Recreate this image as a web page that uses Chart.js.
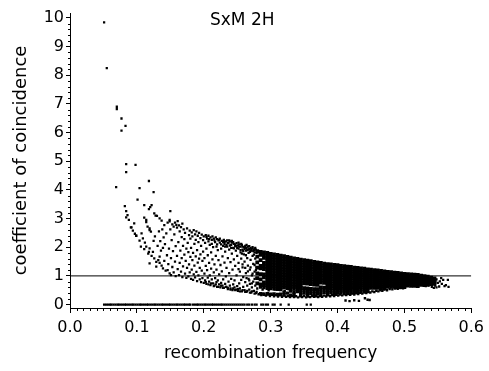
<!DOCTYPE html>
<html><head><meta charset="utf-8">
<script src="https://cdn.jsdelivr.net/npm/chart.js@4.4.1/dist/chart.umd.min.js"></script>
<style>html,body{margin:0;padding:0;background:#fff;}canvas{display:block;}</style>
</head><body>
<canvas id="c" width="489" height="371"></canvas>
<script>
const chartTitle = 'SxM 2H';
const xAxisTitle = 'recombination frequency';
const yAxisTitle = 'coefficient of coincidence';
const xTickLabels = ['0.0','0.1','0.2','0.3','0.4','0.5','0.6'];
const yTickLabels = ['0','1','2','3','4','5','6','7','8','9','10'];
const referenceLine = [[0,1],[0.6,1]];

const outliers = [[0.051,9.84],[0.055,8.25],[0.070,6.90],[0.070,6.82],[0.077,6.49],[0.083,6.23],[0.077,6.07],[0.084,4.90],[0.098,4.87],[0.084,4.62],[0.118,4.31],[0.069,4.10],[0.104,4.06],[0.125,3.92],[0.101,3.66],[0.122,3.47],[0.120,3.40],[0.082,3.43],[0.084,3.26],[0.084,3.04],[0.118,3.33],[0.150,3.26],[0.126,3.18],[0.130,3.09],[0.134,3.01],[0.137,2.93],[0.111,3.03],[0.114,2.88],[0.092,2.69],[0.099,2.40],[0.107,2.48],[0.119,2.66],[0.121,2.54],[0.141,2.77],[0.149,2.95]];

const zeroRowX = [0.051,0.054,0.057,0.060,0.062,0.065,0.068,0.071,0.073,0.076,0.079,0.082,0.084,0.087,0.090,0.093,0.095,0.098,0.101,0.104,0.106,0.109,0.112,0.115,0.117,0.120,0.123,0.126,0.128,0.131,0.134,0.137,0.139,0.142,0.145,0.148,0.150,0.153,0.156,0.159,0.161,0.164,0.167,0.170,0.172,0.175,0.178,0.180,0.184,0.187,0.190,0.192,0.195,0.198,0.201,0.203,0.206,0.209,0.212,0.214,0.217,0.220,0.223,0.226,0.228,0.231,0.234,0.237,0.240,0.243,0.246,0.249,0.252,0.255,0.258,0.261,0.265,0.268,0.272,0.276,0.279,0.286,0.289,0.293,0.296,0.303,0.306,0.315,0.327,0.354,0.360];

const sparseCloud = [
[0.086,3.12],[0.088,2.95],[0.091,2.69],[0.094,2.58],[0.097,2.47],[0.099,2.40],[0.096,2.83],
[0.104,2.23],[0.106,2.02],[0.109,2.31],[0.111,1.93],[0.111,3.47],[0.112,2.16],[0.114,2.95],[0.114,2.02],[0.116,2.72],[0.117,1.78],[0.118,1.84],[0.119,1.96],[0.119,2.60],[0.119,1.44],
[0.122,1.70],[0.124,1.84],[0.125,2.22],[0.126,1.61],[0.127,2.38],[0.128,3.10],[0.129,1.49],[0.129,1.32],[0.131,2.05],[0.132,1.55],[0.133,2.55],[0.134,1.45],[0.134,1.67],[0.135,2.21],[0.136,1.88],[0.137,1.36],[0.138,2.62],[0.139,1.26],[0.139,1.98],[0.140,2.34],
[0.141,1.52],[0.142,2.11],[0.143,1.18],[0.144,2.48],[0.145,1.72],[0.146,1.20],[0.146,2.86],[0.147,1.41],[0.148,1.95],[0.149,1.09],[0.149,2.90],[0.150,2.62],[0.151,1.03],[0.151,1.62],[0.152,2.25],[0.153,2.80],[0.153,1.31],[0.154,1.86],[0.155,2.72],[0.155,1.12],[0.156,2.45],[0.157,2.86],[0.157,1.50],[0.158,2.04],[0.158,0.99],[0.159,2.78],[0.160,1.70],[0.160,2.68],
[0.161,1.24],[0.161,2.91],[0.162,2.18],[0.163,1.03],[0.163,2.76],[0.164,1.45],[0.164,2.55],[0.165,1.88],[0.166,2.70],[0.166,1.15],[0.167,2.35],[0.167,1.62],[0.168,2.82],[0.168,0.96],[0.169,2.05],[0.169,1.33],[0.170,2.62],[0.171,1.74],[0.171,2.28],[0.172,1.08],[0.172,2.50],[0.173,1.52],[0.174,1.95],[0.174,0.93],[0.175,2.66],[0.175,1.28],[0.176,2.15],[0.177,1.83],[0.177,0.98],[0.178,2.42],[0.178,1.40],[0.179,2.58],[0.179,1.12],[0.180,1.66],[0.180,2.30],
[0.181,0.90],[0.181,1.98],[0.182,2.52],[0.182,1.22],[0.183,1.55],[0.183,2.38],[0.184,0.86],[0.184,1.80],[0.185,2.60],[0.185,1.05],[0.186,2.12],[0.186,1.36],[0.187,2.45],[0.187,0.95],[0.188,1.68],[0.188,2.26],[0.189,1.14],[0.189,2.55],[0.190,1.90],[0.190,0.82],[0.191,1.46],[0.191,2.40],[0.192,1.02],[0.192,2.18],[0.193,1.60],[0.193,2.50],[0.194,0.88],[0.194,1.28],[0.195,2.32],[0.195,1.75],[0.196,0.78],[0.196,2.05],[0.197,1.18],[0.197,2.44],[0.198,1.52],[0.198,0.92],[0.199,2.25],[0.199,1.85],[0.200,0.76],[0.200,2.38],
[0.201,1.08],[0.201,1.62],[0.202,2.15],[0.202,0.84],[0.203,2.42],[0.203,1.35],[0.204,1.95],[0.204,0.72],[0.205,2.30],[0.205,1.20],[0.206,1.72],[0.206,0.94],[0.207,2.20],[0.207,2.40],[0.208,0.80],[0.208,1.45],[0.209,2.08],[0.209,1.02],[0.210,2.34],[0.210,0.68],[0.211,1.82],[0.211,1.25],[0.212,2.26],[0.212,0.88],[0.213,1.58],[0.213,2.38],[0.214,0.74],[0.214,2.00],[0.215,1.12],[0.215,2.30],[0.216,0.66],[0.216,1.40],[0.217,2.18],[0.217,0.92],[0.218,1.70],[0.218,2.34],[0.219,0.78],[0.219,1.22],[0.220,2.10],[0.220,0.62],[0.220,2.28],
[0.221,1.90],[0.221,0.84],[0.222,1.55],[0.222,2.24],[0.223,0.70],[0.223,1.05],[0.224,2.16],[0.224,2.30],[0.225,0.60],[0.225,1.38],[0.226,1.95],[0.226,0.76],[0.227,2.22],[0.227,1.16],[0.228,0.66],[0.228,1.68],[0.229,2.05],[0.229,0.88],[0.230,2.26],[0.230,0.58],[0.231,1.46],[0.231,2.12],[0.232,0.72],[0.232,1.85],[0.233,2.20],[0.233,0.98],[0.234,0.62],[0.234,1.28],[0.235,2.02],[0.235,2.24],[0.236,0.54],[0.236,1.62],[0.237,0.80],[0.237,2.15],[0.238,1.10],[0.238,1.92],[0.239,0.66],[0.239,2.20],[0.240,1.48],[0.240,0.56],[0.241,2.08],[0.241,0.90],[0.242,1.78],[0.242,2.16],[0.243,0.50],[0.243,1.22],[0.244,0.70],[0.244,1.98],[0.245,2.12],[0.245,1.58],[0.246,0.60],[0.246,0.84],[0.247,2.04],[0.247,1.35],[0.248,0.52],[0.248,1.88],[0.249,2.14],[0.249,1.02],[0.250,0.64],[0.250,1.70],
[0.251,2.06],[0.251,0.48],[0.252,1.45],[0.252,1.95],[0.253,0.74],[0.253,2.10],[0.254,1.15],[0.254,0.56],[0.255,1.82],[0.255,2.02],[0.256,0.86],[0.256,1.60],[0.257,0.46],[0.257,2.08],[0.258,1.30],[0.258,1.92],[0.259,0.62],[0.259,0.96],[0.260,2.00],[0.260,1.75],[0.261,0.50],[0.261,1.50],[0.262,2.05],[0.262,0.78],[0.263,1.10],[0.263,1.88],[0.264,0.44],[0.264,1.98],[0.265,1.62],[0.265,0.66],[0.266,2.02],[0.266,1.36],[0.267,0.90],[0.267,1.80],[0.268,0.52],[0.268,1.94],[0.269,1.22],[0.269,0.72],[0.270,1.98],[0.270,1.56],[0.271,0.42],[0.271,1.88],[0.272,1.02],[0.272,0.60],[0.273,1.70],[0.273,1.95],[0.274,0.80],[0.274,1.42],[0.275,0.48],[0.275,1.90],[0.276,1.15],[0.276,1.82],[0.277,0.66],[0.277,1.60],[0.278,0.40],[0.278,1.92],[0.279,0.92],[0.279,1.30],[0.280,1.85],[0.280,0.56],
[0.204,2.36],[0.208,2.28],[0.212,2.12],[0.216,2.24],[0.219,2.02],[0.223,2.26],[0.226,2.10],[0.229,2.18],[0.232,2.02],[0.236,2.14],[0.239,2.06],[0.242,2.22],[0.245,1.96],[0.248,2.04],[0.252,2.16],[0.255,1.90],[0.258,2.02],[0.261,1.94],[0.264,2.08],[0.267,1.92],[0.270,1.86],[0.273,2.00],[0.276,1.94],[0.279,1.80],
[0.203,0.78],[0.207,0.70],[0.211,0.74],[0.215,0.64],[0.218,0.70],[0.222,0.62],[0.226,0.66],[0.229,0.58],[0.233,0.62],[0.236,0.58],[0.240,0.52],[0.244,0.56],[0.247,0.50],[0.251,0.54],[0.254,0.46],[0.258,0.50],[0.262,0.44],[0.265,0.48],[0.269,0.42],[0.272,0.46],[0.276,0.38],[0.279,0.44],
[0.231,2.18],[0.234,2.08],[0.238,2.24],[0.241,1.98],[0.244,2.18],[0.247,2.10],[0.250,1.98],[0.253,2.02],[0.256,2.12],[0.259,1.86],[0.262,1.98],[0.265,1.90],[0.268,2.04],[0.271,1.94],[0.274,1.86],[0.277,1.98],[0.257,1.78],[0.263,1.72],[0.269,1.84],[0.275,1.74],
[0.252,1.24],[0.258,1.40],[0.262,1.28],[0.266,1.16],[0.270,1.30],[0.273,1.08],[0.276,1.38],[0.278,1.20],[0.264,0.92],[0.268,0.84],[0.272,0.74],[0.276,0.90]
];

const coreColumns = [
[0.280,[1.86,1.67,1.47,1.29,1.09,0.92,0.74]],
[0.285,[1.84,1.73,1.55,1.35,1.26,1.06,0.88,0.70]],
[0.290,[1.82,1.74,1.63,1.45,1.34,1.24,1.05,0.95,0.77,0.68]],
[0.295,[1.80,1.70,1.61,1.51,1.42,1.31,1.22,1.13,1.03,0.94,0.84,0.75,0.66]],
[0.300,[1.77,1.68,1.58,1.49,1.40,1.30,1.20,1.11,1.02,0.92,0.83,0.73,0.65]],
[0.305,[1.75,1.66,1.57,1.47,1.37,1.28,1.19,1.09,1.00,0.90,0.81,0.72,0.63]],
[0.310,[1.73,1.64,1.54,1.45,1.36,1.26,1.17,1.07,0.98,0.89,0.79,0.70,0.62]],
[0.315,[1.71,1.61,1.52,1.43,1.33,1.24,1.15,1.05,0.96,0.87,0.78,0.69,0.60]],
[0.320,[1.69,1.59,1.50,1.41,1.31,1.22,1.13,1.03,0.94,0.85,0.76,0.67,0.59]],
[0.325,[1.66,1.57,1.48,1.38,1.29,1.20,1.11,1.01,0.92,0.83,0.74,0.65]],
[0.330,[1.64,1.55,1.46,1.36,1.27,1.18,1.09,1.00,0.90,0.81,0.72,0.63]],
[0.335,[1.61,1.52,1.43,1.34,1.25,1.16,1.07,0.98,0.89,0.79,0.70,0.62]],
[0.340,[1.59,1.50,1.41,1.32,1.23,1.14,1.05,0.96,0.87,0.78,0.69,0.60]],
[0.345,[1.57,1.48,1.39,1.30,1.21,1.12,1.03,0.94,0.85,0.76,0.67,0.58]],
[0.350,[1.55,1.46,1.37,1.28,1.19,1.10,1.01,0.92,0.83,0.74,0.57]],
[0.355,[1.53,1.44,1.35,1.26,1.17,1.08,1.00,0.91,0.82,0.73,0.56]],
[0.360,[1.51,1.42,1.33,1.24,1.16,1.07,0.98,0.89,0.80,0.71,0.55]],
[0.365,[1.49,1.40,1.31,1.23,1.14,1.05,0.96,0.88,0.79,0.70,0.54]],
[0.370,[1.47,1.38,1.30,1.21,1.12,1.04,0.95,0.86,0.78,0.69,0.54]],
[0.375,[1.45,1.36,1.28,1.19,1.11,1.02,0.94,0.85,0.77,0.60]],
[0.380,[1.43,1.35,1.26,1.18,1.09,1.01,0.92,0.84,0.76,0.59]],
[0.385,[1.41,1.33,1.25,1.16,1.08,0.99,0.91,0.83,0.74,0.66,0.58]],
[0.390,[1.40,1.32,1.23,1.15,1.07,0.98,0.90,0.82,0.73,0.65,0.57]],
[0.395,[1.38,1.30,1.22,1.14,1.05,0.97,0.89,0.81,0.72,0.64,0.56]],
[0.400,[1.37,1.29,1.21,1.12,1.04,0.96,0.88,0.80,0.72,0.64,0.56]],
[0.405,[1.35,1.27,1.19,1.11,1.03,0.95,0.87,0.79,0.71,0.63,0.56]],
[0.410,[1.34,1.26,1.18,1.10,1.02,0.94,0.86,0.78,0.70,0.62,0.55]],
[0.415,[1.32,1.24,1.16,1.08,1.00,0.93,0.85,0.77,0.69,0.62,0.55]],
[0.420,[1.31,1.23,1.15,1.07,0.99,0.92,0.84,0.76,0.69,0.61,0.55]],
[0.425,[1.29,1.21,1.14,1.06,0.98,0.91,0.83,0.75,0.68,0.61,0.55]],
[0.430,[1.28,1.20,1.13,1.05,0.97,0.90,0.82,0.75,0.67,0.60,0.55]],
[0.435,[1.26,1.19,1.11,1.04,0.96,0.89,0.81,0.74,0.67,0.60]],
[0.440,[1.25,1.18,1.10,1.03,0.95,0.88,0.81,0.73,0.66,0.59]],
[0.445,[1.23,1.16,1.09,1.01,0.94,0.87,0.80,0.72,0.65,0.58]],
[0.450,[1.22,1.15,1.08,1.00,0.93,0.86,0.79,0.72,0.65,0.58]],
[0.455,[1.20,1.13,1.06,0.99,0.92,0.85,0.78,0.71,0.64,0.58]],
[0.460,[1.19,1.12,1.05,0.98,0.91,0.84,0.77,0.70,0.64,0.58]],
[0.465,[1.17,1.10,1.04,0.97,0.90,0.83,0.77,0.70,0.63,0.57]],
[0.470,[1.16,1.09,1.03,0.96,0.89,0.83,0.76,0.69,0.63,0.57]],
[0.475,[1.14,1.08,1.01,0.95,0.88,0.82,0.75,0.69,0.62]],
[0.480,[1.13,1.07,1.00,0.94,0.87,0.81,0.75,0.68,0.62]],
[0.485,[1.11,1.05,0.99,0.93,0.86,0.80,0.74,0.68,0.62]],
[0.490,[1.10,1.04,0.98,0.92,0.86,0.79,0.73,0.67,0.61]],
[0.495,[1.09,1.03,0.97,0.91,0.85,0.79,0.73,0.67,0.61]],
[0.500,[1.07,1.01,0.95,0.89,0.84,0.78,0.72,0.66,0.61]],
[0.505,[1.06,1.00,0.94,0.88,0.83,0.77,0.71,0.66]],
[0.510,[1.05,0.99,0.93,0.87,0.82,0.76,0.71,0.65]],
[0.515,[1.04,0.98,0.92,0.87,0.81,0.76,0.70,0.65]],
[0.520,[1.03,0.97,0.91,0.86,0.80,0.75,0.70,0.64]],
[0.525,[1.01,0.95,0.90,0.85,0.79,0.74,0.69]],
[0.530,[0.99,0.94,0.88,0.83,0.78,0.73,0.68]],
[0.535,[0.97,0.91,0.86,0.80,0.75,0.70]],
[0.540,[0.94,0.88,0.83,0.77,0.71]],
[0.545,[0.91,0.85,0.79,0.73]]
];

const coreLowerColumns = [
[0.285,[0.61,0.38]],[0.290,[0.59,0.36]],[0.295,[0.57,0.38]],[0.300,[0.56,0.36]],[0.305,[0.55,0.37]],[0.310,[0.53,0.35]],[0.315,[0.52,0.36]],[0.320,[0.43,0.34]],[0.325,[0.57,0.40]],[0.330,[0.55,0.47,0.33]],[0.335,[0.54,0.44,0.36]],[0.340,[0.52,0.45]],[0.345,[0.50,0.42,0.34]],[0.350,[0.49,0.40]],[0.355,[0.48,0.41,0.33]],[0.360,[0.47,0.38]],[0.365,[0.46,0.40,0.33]],[0.370,[0.46,0.37]],[0.375,[0.52,0.44,0.36]],[0.380,[0.51,0.42]],[0.385,[0.50,0.43,0.36]],[0.390,[0.49,0.41]],[0.395,[0.48,0.42,0.37]],[0.400,[0.48,0.40]],[0.405,[0.48,0.42]],[0.410,[0.47,0.41]],[0.415,[0.47,0.43]],[0.420,[0.47,0.41]],[0.425,[0.48,0.43]],[0.430,[0.48,0.44]],[0.435,[0.52,0.46]],[0.440,[0.51,0.47]],[0.445,[0.51,0.46]]
];

const lowerBand = [
[0.282,0.36],[0.286,0.33],[0.289,0.38],[0.293,0.31],[0.296,0.35],[0.299,0.30],[0.302,0.34],[0.305,0.29],[0.308,0.33],[0.311,0.28],[0.314,0.32],[0.317,0.27],[0.320,0.31],[0.323,0.27],[0.326,0.30],[0.329,0.26],[0.332,0.30],[0.335,0.26],[0.338,0.29],[0.341,0.25],[0.344,0.29],[0.347,0.26],[0.350,0.30],[0.353,0.25],[0.356,0.28],[0.359,0.26],[0.362,0.30],[0.365,0.27],[0.368,0.29],[0.371,0.26],[0.374,0.30],[0.377,0.27],[0.380,0.31],[0.383,0.28],[0.386,0.32],[0.389,0.29],[0.392,0.33],[0.395,0.30],[0.398,0.34],[0.401,0.31],[0.404,0.35],[0.407,0.32],[0.410,0.36],[0.413,0.33],[0.416,0.37],[0.419,0.34],[0.422,0.38],[0.425,0.35],[0.428,0.39],[0.431,0.37],[0.434,0.41],[0.437,0.38],[0.440,0.42],[0.443,0.40],[0.446,0.44],[0.449,0.42],[0.452,0.46],[0.455,0.44],[0.458,0.48],[0.461,0.46],[0.464,0.50],[0.467,0.48],[0.470,0.52],[0.474,0.50],[0.478,0.54],[0.482,0.53],[0.486,0.56],[0.490,0.55],[0.494,0.58],[0.498,0.57],
[0.288,0.52],[0.297,0.50],[0.306,0.52],[0.313,0.55],[0.321,0.47],[0.327,0.53],
[0.412,0.14],[0.418,0.12],[0.425,0.15],[0.432,0.13],[0.441,0.22],[0.445,0.17],[0.448,0.16]
];

const rightTail = [[0.532,0.64],[0.536,0.66],[0.538,0.85],[0.541,0.62],[0.543,0.70],[0.544,0.58],[0.546,0.66],[0.548,0.88],[0.548,0.60],[0.550,0.76],[0.552,0.63],[0.553,0.81],[0.555,0.92],[0.556,0.72],[0.558,0.86],[0.560,0.64],[0.562,0.68],[0.565,0.86],[0.566,0.62]];

const FONT = '"DejaVu Sans", sans-serif';
const toPts = arr => arr.map(p => ({x: p[0], y: p[1]}));
const fromColumns = cols => { const out = []; cols.forEach(c => c[1].forEach(v => out.push({x: c[0], y: v}))); return out; };
const zeroPts = zeroRowX.map(v => ({x: v, y: 0}));

const dot = (data, r) => ({type: 'scatter', data, pointStyle: 'rect', pointRadius: r, pointHoverRadius: r, pointBorderWidth: 0, borderWidth: 0, backgroundColor: '#000', pointBackgroundColor: '#000'});

const extras = {
  id: 'extras',
  afterDraw(chart) {
    const {ctx, chartArea: a} = chart;
    const xs = chart.scales.x, ys = chart.scales.y;
    ctx.save();
    ctx.strokeStyle = '#000'; ctx.lineWidth = 1;
    ctx.beginPath();
    for (let i = 0; i <= 60; i++) {
      if (i % 10 === 0) continue;
      const px = Math.round(xs.getPixelForValue(i / 100)) + 0.5;
      ctx.moveTo(px, a.bottom); ctx.lineTo(px, a.bottom + 3);
    }
    for (let i = 0; i <= 50; i++) {
      if (i % 5 === 0) continue;
      const py = Math.round(ys.getPixelForValue(i / 5)) + 0.5;
      ctx.moveTo(a.left, py); ctx.lineTo(a.left - 2, py);
    }
    ctx.stroke();
    ctx.fillStyle = '#000';
    ctx.font = '17px ' + FONT;
    ctx.textAlign = 'left'; ctx.textBaseline = 'alphabetic';
    ctx.fillText(chartTitle, 210, 25);
    ctx.restore();
  }
};

new Chart(document.getElementById('c'), {
  data: {
    datasets: [
      {type: 'line', data: toPts(referenceLine), borderColor: '#000', borderWidth: 1, pointRadius: 0, fill: false},
      dot(toPts(outliers), 1.6),
      dot(zeroPts, 1.6),
      dot(toPts(sparseCloud), 1.6),
      dot(toPts(lowerBand), 1.7),
      dot(fromColumns(coreLowerColumns), 2.4),
      dot(fromColumns(coreColumns), 2.7),
      dot(toPts(rightTail), 1.6)
    ]
  },
  options: {
    responsive: false, animation: false, devicePixelRatio: 1,
    layout: {padding: {top: 13, right: 15, left: 0, bottom: 0}},
    plugins: {legend: {display: false}, tooltip: {enabled: false}, title: {display: false}},
    scales: {
      x: {
        type: 'linear', min: 0, max: 0.6,
        afterFit: s => { s.height = 63; },
        ticks: {stepSize: 0.1, autoSkip: false, includeBounds: false, color: '#000', padding: 5,
          font: {family: FONT, size: 16},
          callback: v => xTickLabels[Math.round(v * 10)]},
        grid: {drawOnChartArea: false, drawTicks: true, tickLength: 5, tickColor: '#000', color: '#000'},
        border: {display: true, color: '#000', width: 1},
        title: {display: true, text: xAxisTitle, color: '#000', font: {family: FONT, size: 17}, padding: {top: 0, bottom: 7}}
      },
      y: {
        type: 'linear', min: -0.12, max: 10.17,
        afterFit: s => { s.width = 70; },
        ticks: {stepSize: 1, autoSkip: false, includeBounds: false, color: '#000', padding: 2,
          font: {family: FONT, size: 16},
          callback: v => yTickLabels[Math.round(v)]},
        grid: {drawOnChartArea: false, drawTicks: true, tickLength: 4, tickColor: '#000', color: '#000'},
        border: {display: true, color: '#000', width: 1},
        title: {display: true, text: yAxisTitle, color: '#000', font: {family: FONT, size: 18}, padding: {top: 11, bottom: 0}}
      }
    }
  },
  plugins: [extras]
});
</script>
</body></html>
